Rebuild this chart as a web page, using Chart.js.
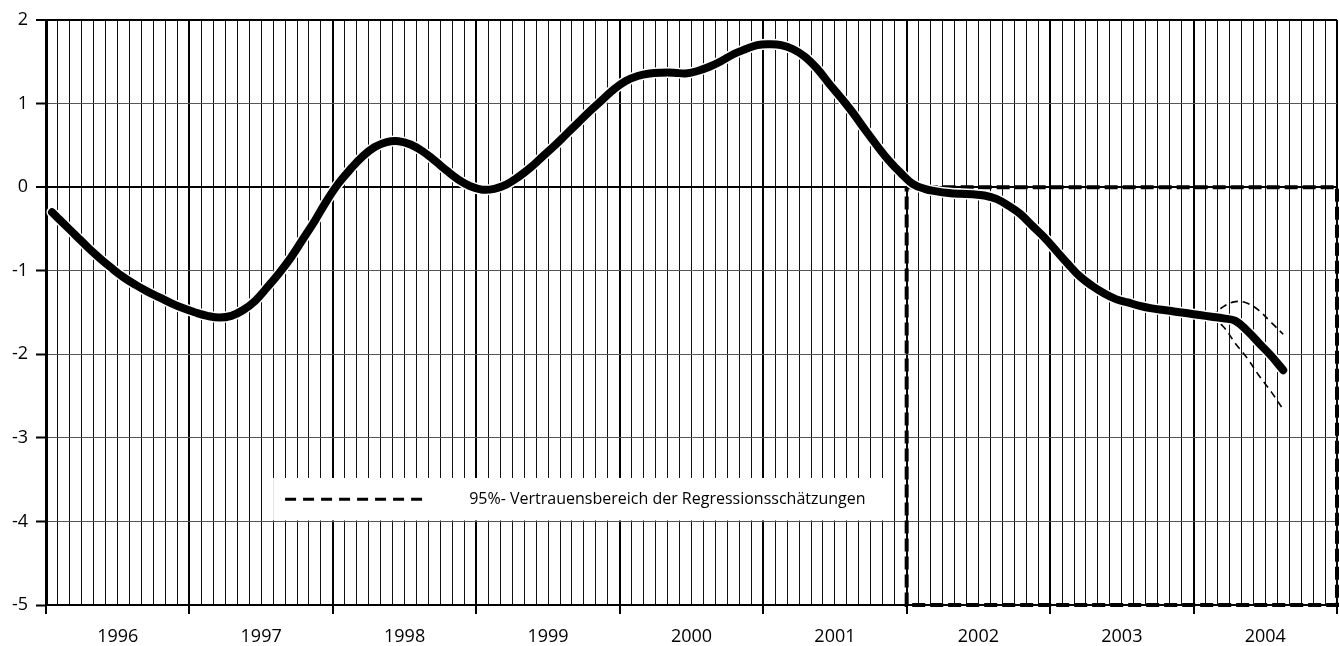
<!DOCTYPE html>
<html><head><meta charset="utf-8">
<script src="https://cdn.jsdelivr.net/npm/chart.js@4/dist/chart.umd.min.js"></script>
<style>html,body{margin:0;padding:0;background:#fff}canvas{display:block}</style>
</head><body>
<canvas id="c" width="1339" height="646"></canvas>
<script>
// ---- data ----
const years = ['1996','1997','1998','1999','2000','2001','2002','2003','2004'];
const yTickValues = [2, 1, 0, -1, -2, -3, -4, -5];
// monthly values, Jan 1996 .. Aug 2004
const mainValues = [
  -0.30,-0.44,-0.58,-0.72,-0.85,-0.97,-1.08,-1.17,-1.25,-1.32,-1.39,-1.45,
  -1.50,-1.54,-1.56,-1.54,-1.47,-1.36,-1.20,-1.03,-0.84,-0.62,-0.40,-0.16,
   0.05, 0.22, 0.37, 0.48, 0.54, 0.55, 0.51, 0.43, 0.32, 0.20, 0.09, 0.01,
  -0.03,-0.02, 0.03, 0.12, 0.23, 0.36, 0.49, 0.63, 0.77, 0.91, 1.04, 1.17,
   1.27, 1.33, 1.36, 1.37, 1.37, 1.36, 1.39, 1.44, 1.51, 1.59, 1.65, 1.70,
   1.71, 1.70, 1.65, 1.56, 1.42, 1.24, 1.07, 0.89, 0.69, 0.50, 0.32, 0.17,
   0.04,-0.02,-0.05,-0.07,-0.08,-0.085,-0.10,-0.14,-0.22,-0.32,-0.46,-0.60,
  -0.76,-0.92,-1.07,-1.18,-1.27,-1.34,-1.38,-1.42,-1.45,-1.47,-1.49,-1.51,
  -1.53,-1.55,-1.57,-1.60,-1.72,-1.87,-2.02,-2.19
];
const bandStartMonth = 97; // Feb 2004
const upperBand = [-1.55,-1.43,-1.37,-1.39,-1.48,-1.62,-1.76];
const lowerBand = [-1.55,-1.67,-1.87,-2.05,-2.26,-2.45,-2.66];
// forecast region box (months from Jan 1996, value)
const forecastBoxX = [72, 108, 108, 72, 72];
const forecastBoxY = [0, 0, -5, -5, 0];
const legendLabel = '95%- Vertrauensbereich der Regressionsschätzungen';

// ---- build ----
const FONT = '"Open Sans", "DejaVu Sans", sans-serif';
const mainPts = mainValues.map((v, i) => ({x: i + 0.5, y: v}));
const upPts = upperBand.map((v, i) => ({x: bandStartMonth + i + 0.5, y: v}));
const loPts = lowerBand.map((v, i) => ({x: bandStartMonth + i + 0.5, y: v}));
const boxPts = forecastBoxX.map((x, i) => ({x: x, y: forecastBoxY[i]}));

const legendPlugin = {
  id: 'bandLegend',
  afterDatasetsDraw(chart) {
    const {ctx, scales: {x, y}} = chart;
    const l = x.getPixelForValue(19.0), r = x.getPixelForValue(70.1);
    const t = y.getPixelForValue(-3.48), b = y.getPixelForValue(-4) - 1;
    ctx.save();
    ctx.fillStyle = '#fff';
    ctx.fillRect(l, t, r - l, b - t);
    const cy = (t + b) / 2;
    ctx.strokeStyle = '#000';
    ctx.lineWidth = 3;
    ctx.setLineDash([11, 7]);
    ctx.beginPath();
    ctx.moveTo(x.getPixelForValue(20.0), cy);
    ctx.lineTo(x.getPixelForValue(31.7), cy);
    ctx.stroke();
    ctx.setLineDash([]);
    ctx.fillStyle = '#000';
    ctx.font = '16px ' + FONT;
    ctx.textBaseline = 'middle';
    ctx.textAlign = 'left';
    ctx.fillText(legendLabel, x.getPixelForValue(35.4), cy);
    ctx.restore();
  }
};

new Chart(document.getElementById('c'), {
  type: 'line',
  data: {
    datasets: [
      {data: mainPts, borderColor: '#000', borderWidth: 8, pointRadius: 0, tension: 0.4, order: 0, borderCapStyle: 'round', borderJoinStyle: 'round'},
      {data: mainPts, borderColor: '#fff', borderWidth: 11, pointRadius: 0, tension: 0.4, order: 1, borderCapStyle: 'round'},
      {data: upPts, borderColor: '#000', borderWidth: 1.6, borderDash: [7, 5], pointRadius: 0, tension: 0.4, order: 2},
      {data: loPts, borderColor: '#000', borderWidth: 1.6, borderDash: [7, 5], pointRadius: 0, tension: 0.4, order: 2},
      {data: boxPts, borderColor: '#000', borderWidth: 4, borderDash: [13, 5], pointRadius: 0, tension: 0, order: 3, clip: 6}
    ]
  },
  options: {
    responsive: false,
    animation: false,
    events: [],
    layout: {padding: {top: 20, right: 2, left: 0, bottom: 0}},
    plugins: {legend: {display: false}, tooltip: {enabled: false}},
    scales: {
      x: {
        type: 'linear', min: 0, max: 108,
        afterFit(s) { s.height = 41; s.paddingRight = 0; s.paddingLeft = 0; },
        afterBuildTicks(s) { const t = []; for (let v = 0; v <= 108; v++) t.push({value: v}); s.ticks = t; },
        border: {display: true, color: '#000', width: 2},
        grid: {
          color: c => (c.tick && c.tick.value % 12 === 0) ? '#000' : '#111',
          lineWidth: c => (c.tick && c.tick.value % 12 === 0) ? 2 : 1,
          tickColor: c => (c.tick && c.tick.value % 12 === 0) ? '#000' : 'rgba(0,0,0,0)',
          tickLength: 9, tickWidth: 2, drawTicks: true
        },
        ticks: {
          autoSkip: false, maxRotation: 0, padding: 12, color: '#000',
          font: {family: FONT, size: 18},
          callback: v => (v % 12 === 6) ? years[(v - 6) / 12] : ''
        }
      },
      y: {
        type: 'linear', min: -5, max: 2,
        afterFit(s) { s.width = 46; },
        afterBuildTicks(s) { s.ticks = yTickValues.map(v => ({value: v})); },
        border: {display: true, color: '#000', width: 3},
        grid: {
          color: c => (c.tick && (c.tick.value === 0 || c.tick.value === 2)) ? '#000' : '#555',
          lineWidth: c => (c.tick && (c.tick.value === 0 || c.tick.value === 2)) ? 2 : 1,
          tickColor: '#000', tickLength: 10, tickWidth: 2
        },
        ticks: {
          padding: 8, color: '#000', font: {family: FONT, size: 18},
          callback: v => String(v)
        }
      }
    }
  },
  plugins: [legendPlugin]
});
</script>
</body></html>
